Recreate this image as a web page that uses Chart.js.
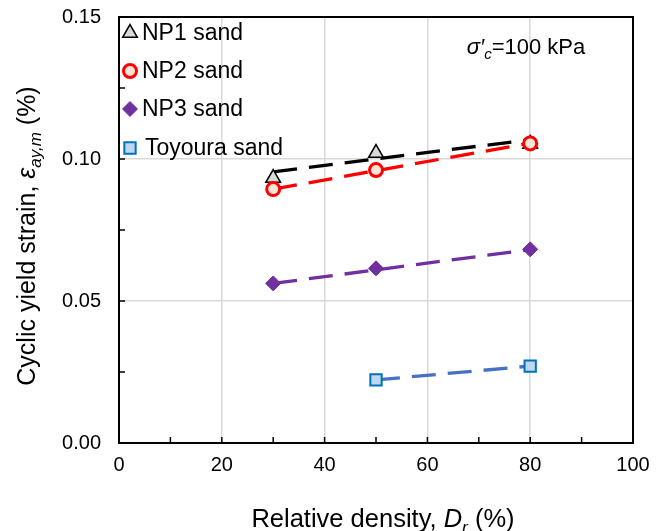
<!DOCTYPE html>
<html>
<head>
<meta charset="utf-8">
<script src="https://cdn.jsdelivr.net/npm/chart.js@4.4.1/dist/chart.umd.min.js"></script>
<style>
  html, body { margin: 0; padding: 0; background: #fff; }
  #wrap { width: 668px; height: 531px; }
</style>
</head>
<body>
<div id="wrap"><canvas id="myChart" width="668" height="531"></canvas></div>
<script>
// 데이터
var seriesNames = ['NP1 sand', 'NP2 sand', 'NP3 sand', 'Toyoura sand'];
var densityNP = [30, 50, 80];
var densityToyoura = [50, 80];
var strainNP1 = [0.0933, 0.1021, 0.1053];
var strainNP2 = [0.0894, 0.0961, 0.1055];
var strainNP3 = [0.0562, 0.0615, 0.0682];
var strainToyoura = [0.0222, 0.0271];
// 추세선 양 끝값
var trendNP1 = [0.0955, 0.1068];
var trendNP2 = [0.0894, 0.1056];
var trendNP3 = [0.0562, 0.0681];
var trendToyoura = [0.0222, 0.0271];
var xTicks = [0, 20, 40, 60, 80, 100];
var yTicks = [0, 0.05, 0.10, 0.15];

var FONT = '"Liberation Sans", Arial, sans-serif';

function toPoints(xs, ys) {
    return xs.map(function (x, i) { return { x: x, y: ys[i] }; });
}
function trendPoints(xs, ends) {
    return [{ x: xs[0], y: ends[0] }, { x: xs[xs.length - 1], y: ends[1] }];
}

var markerSets = [
    { label: seriesNames[0], data: toPoints(densityNP, strainNP1), pointStyle: 'triangle', pointRadius: 8.5,
      backgroundColor: '#d9d9d9', borderColor: '#000000', borderWidth: 1.5 },
    { label: seriesNames[1], data: toPoints(densityNP, strainNP2), pointStyle: 'circle', pointRadius: 6.5,
      backgroundColor: '#fbe5d6', borderColor: '#ff0000', borderWidth: 3 },
    { label: seriesNames[2], data: toPoints(densityNP, strainNP3), pointStyle: 'rectRot', pointRadius: 7.5,
      backgroundColor: '#7030a0', borderColor: '#7030a0', borderWidth: 1 },
    { label: seriesNames[3], data: toPoints(densityToyoura, strainToyoura), pointStyle: 'rect', pointRadius: 8,
      backgroundColor: '#bdd7ee', borderColor: '#0070c0', borderWidth: 2 }
];
var trendSets = [
    { data: trendPoints(densityNP, trendNP1), color: '#000000' },
    { data: trendPoints(densityNP, trendNP2), color: '#ff0000' },
    { data: trendPoints(densityNP, trendNP3), color: '#7030a0' },
    { data: trendPoints(densityToyoura, trendToyoura), color: '#4472c4' }
];

var datasets = [];
trendSets.forEach(function (t) {
    datasets.push({
        type: 'line', data: t.data, borderColor: t.color, borderWidth: 3.3,
        borderDash: [24, 12], pointRadius: 0, fill: false, order: 20
    });
});
// 뒤 계열이 위에 그려지도록 order 를 줄여감
markerSets.forEach(function (m, i) {
    datasets.push({
        type: 'scatter', label: m.label, data: m.data, pointStyle: m.pointStyle,
        pointRadius: m.pointRadius, pointHoverRadius: m.pointRadius,
        pointBackgroundColor: m.backgroundColor, pointBorderColor: m.borderColor,
        pointBorderWidth: m.borderWidth, backgroundColor: m.backgroundColor,
        borderColor: m.borderColor, borderWidth: m.borderWidth, showLine: false, order: 10 - i
    });
});

// 글자 조각 그리기 (이탤릭, 아래첨자)
function drawRich(ctx, parts, cx, cy, size) {
    var total = 0;
    parts.forEach(function (p) {
        var fs = p.sub ? size * 0.68 : size;
        ctx.font = (p.italic ? 'italic ' : '') + fs + 'px ' + FONT;
        p.w = ctx.measureText(p.t).width;
        p.fs = fs;
        total += p.w;
    });
    var x = cx - total / 2;
    parts.forEach(function (p) {
        ctx.font = (p.italic ? 'italic ' : '') + p.fs + 'px ' + FONT;
        ctx.textBaseline = 'alphabetic';
        ctx.textAlign = 'left';
        ctx.fillText(p.t, x, cy + size * 0.36 + (p.sub ? size * 0.22 : 0));
        x += p.w;
    });
}

var decorPlugin = {
    id: 'decor',
    beforeDatasetsDraw: function (chart) {
        var ctx = chart.ctx, a = chart.chartArea;
        var xs = chart.scales.x, ys = chart.scales.y;
        ctx.save();
        ctx.strokeStyle = '#000';
        ctx.lineWidth = 1.5;
        // 안쪽 눈금
        for (var v = 10; v < 100; v += 10) {
            var px = xs.getPixelForValue(v);
            ctx.beginPath(); ctx.moveTo(px, a.bottom); ctx.lineTo(px, a.bottom - 6); ctx.stroke();
        }
        for (var w = 0.025; w < 0.15; w += 0.025) {
            var py = ys.getPixelForValue(w);
            ctx.beginPath(); ctx.moveTo(a.left, py); ctx.lineTo(a.left + 6, py); ctx.stroke();
        }
        ctx.lineWidth = 2;
        ctx.strokeRect(a.left, a.top, a.right - a.left, a.bottom - a.top);
        ctx.restore();
    },
    afterDraw: function (chart) {
        var ctx = chart.ctx;
        ctx.save();
        ctx.fillStyle = '#000';
        // 범례
        var rows = [33, 71, 109, 148];
        markerSets.forEach(function (m, i) {
            ctx.save();
            ctx.fillStyle = m.backgroundColor;
            ctx.strokeStyle = m.borderColor;
            ctx.lineWidth = m.borderWidth;
            Chart.helpers.drawPoint(ctx, { pointStyle: m.pointStyle, radius: m.pointRadius, borderWidth: m.borderWidth }, 130, rows[i]);
            ctx.restore();
            ctx.font = '23px ' + FONT;
            ctx.textBaseline = 'middle';
            ctx.textAlign = 'left';
            ctx.fillText(m.label, i === 3 ? 145 : 142, rows[i] + 1);
        });
        // 구속압 표시
        drawRich(ctx, [
            { t: 'σ′', italic: true },
            { t: 'c', italic: true, sub: true },
            { t: '=100 kPa' }
        ], 526, 46, 22);
        // 축 제목
        drawRich(ctx, [
            { t: 'Relative density, ' },
            { t: 'D', italic: true },
            { t: 'r', italic: true, sub: true },
            { t: ' (%)' }
        ], 383, 518, 25.5);
        ctx.save();
        ctx.translate(26, 236);
        ctx.rotate(-Math.PI / 2);
        drawRich(ctx, [
            { t: 'Cyclic yield strain, ' },
            { t: 'ε', italic: true },
            { t: 'ay,m', italic: true, sub: true },
            { t: ' (%)' }
        ], 0, 0, 25);
        ctx.restore();
        ctx.restore();
    }
};

var ctx = document.getElementById('myChart').getContext('2d');
window.myChart = new Chart(ctx, {
    data: { datasets: datasets },
    plugins: [decorPlugin],
    options: {
        responsive: false,
        animation: false,
        events: [],
        layout: { padding: { top: 17, right: 35, left: 0, bottom: 0 } },
        plugins: { legend: { display: false }, tooltip: { enabled: false } },
        scales: {
            x: {
                type: 'linear', min: 0, max: 100,
                afterBuildTicks: function (s) { s.ticks = xTicks.map(function (v) { return { value: v }; }); },
                afterFit: function (s) { s.height = 88; s.paddingLeft = 0; s.paddingRight = 0; },
                border: { display: false },
                grid: {
                    drawTicks: false, lineWidth: 1.5,
                    color: function (c) { return (c.tick.value === 0 || c.tick.value === 100) ? 'rgba(0,0,0,0)' : '#d9d9d9'; }
                },
                ticks: { padding: 10, color: '#000', font: { family: FONT, size: 20 }, maxRotation: 0,
                         callback: function (v) { return String(v); } }
            },
            y: {
                type: 'linear', min: 0, max: 0.15,
                afterBuildTicks: function (s) { s.ticks = yTicks.map(function (v) { return { value: v }; }); },
                afterFit: function (s) { s.width = 119; s.paddingTop = 0; s.paddingBottom = 0; },
                border: { display: false },
                grid: {
                    drawTicks: false, lineWidth: 1.5,
                    color: function (c) { return (c.tick.value === 0 || Math.abs(c.tick.value - 0.15) < 1e-9) ? 'rgba(0,0,0,0)' : '#d9d9d9'; }
                },
                ticks: { padding: 18, color: '#000', font: { family: FONT, size: 20 },
                         callback: function (v) { return v.toFixed(2); } }
            }
        }
    }
});
</script>
</body>
</html>
